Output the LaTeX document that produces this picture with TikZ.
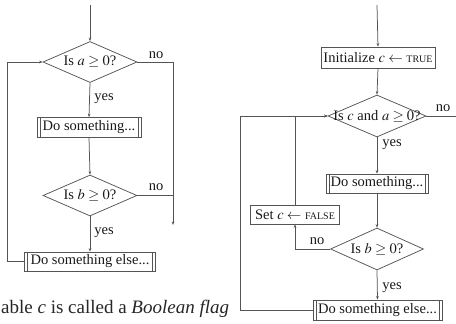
\documentclass[tikz,border=0pt]{standalone}
\usepackage{mathptmx}
\usepackage{fontspec}
\setmainfont{Liberation Serif}
\usetikzlibrary{shapes.geometric,arrows.meta}
\definecolor{lc}{gray}{0.33}
\definecolor{tc}{gray}{0.1}
\newcommand\figfont{\fontsize{14.5}{16}\selectfont}
\newcommand\smcap[1]{{\fontsize{10}{11}\selectfont #1}}
\begin{document}
\begin{tikzpicture}[x=1pt,y=-1pt,
  line/.style={draw=lc, line width=0.75pt},
  arr/.style={line, -{Stealth[length=3.5pt,width=2.6pt]}},
  dec/.style={diamond, draw=lc, line width=0.75pt, inner sep=0pt, font=\figfont, text=tc},
  rbox/.style={rectangle, draw=lc, line width=0.75pt, inner sep=0pt, font=\figfont, text=tc},
  proc/.style={rbox, path picture={\draw[lc, line width=0.75pt]
     ([xshift=3pt]path picture bounding box.north west) -- ([xshift=3pt]path picture bounding box.south west)
     ([xshift=-3pt]path picture bounding box.north east) -- ([xshift=-3pt]path picture bounding box.south east);}},
  lab/.style={font=\figfont, text=tc, inner sep=0pt}]
\useasboundingbox (0,0) rectangle (456,324);

% ---------- left flowchart ----------
\coordinate (top1) at (90,5);
\node[dec, minimum width=94pt, minimum height=41pt] (d1) at (90,62) {\makebox[0pt]{Is $a\geq 0$?}};
\node[proc, minimum width=104pt, minimum height=20pt] (b1) at (89,127.5) {Do something...};
\node[dec, minimum width=94pt, minimum height=41pt] (d2) at (90,195.5) {\makebox[0pt]{Is $b\geq 0$?}};
\node[proc, minimum width=131pt, minimum height=19pt] (b2) at (90,261.5) {Do something else...};
\node[lab] (no1) at (156,55) {no};
\node[lab] (yes1) at (104,99) {yes};
\node[lab] (no2) at (156,187) {no};
\node[lab] (yes2) at (104,233) {yes};
\coordinate (r1) at (173,62);
\coordinate (rend) at (173,225);
\coordinate (lx) at (7,62);

\draw[arr] (top1) -- (d1.north);
\draw[arr] (d1.south) -- (b1.north);
\draw[arr] (b1.south) -- (d2.north);
\draw[arr] (d2.south) -- (b2.north);
\draw[arr] (d1.east) -- (r1) -- (rend);
\draw[line] (d2.east) -- (d2.east -| r1);
\draw[arr] (b2.west) -| (lx) -- (d1.west);

% ---------- right flowchart ----------
\coordinate (top2) at (377,5);
\node[rbox, minimum width=114pt, minimum height=21pt] (i1) at (378,57.5) {Initialize $c\leftarrow$ \smcap{TRUE}};
\node[dec, minimum width=98pt, minimum height=42pt] (d3) at (377,116) {\makebox[0pt]{Is $c$ and $a\geq 0$?}};
\node[proc, minimum width=102pt, minimum height=19pt] (b3) at (377,183.5) {Do something...};
\node[dec, minimum width=93pt, minimum height=42pt] (d4) at (377,249) {\makebox[0pt]{Is $b\geq 0$?}};
\node[rbox, minimum width=89pt, minimum height=19pt] (s1) at (295,214.5) {Set $c\leftarrow$ \smcap{FALSE}};
\node[proc, minimum width=129pt, minimum height=20pt] (b4) at (377.5,310) {Do something else...};
\node[lab] (no3) at (443,108) {no};
\node[lab] (yes3) at (392,145) {yes};
\node[lab] (no4) at (317,241) {no};
\node[lab] (yes4) at (392,288) {yes};
\coordinate (re) at (456,116);
\coordinate (lx2) at (240,116);

\draw[arr] (top2) -- (i1.north);
\draw[arr] (i1.south) -- (d3.north);
\draw[arr] (d3.south) -- (b3.north);
\draw[arr] (b3.south) -- (d4.north);
\draw[arr] (d4.south) -- (b4.north);
\draw[line] (d3.east) -- (re);
\draw[arr] (d4.west) -| (s1.south);
\draw[arr] (s1.north) |- (d3.west);
\draw[arr] (b4.west) -| (lx2) -- (d3.west);

% ---------- caption fragment ----------
\node[anchor=base west, inner sep=0pt, font=\fontsize{19}{22}\selectfont, text=black!85] (cap) at (1,313)
  {able \textit{c} is called a \textit{Boolean flag}};
\end{tikzpicture}
\end{document}
